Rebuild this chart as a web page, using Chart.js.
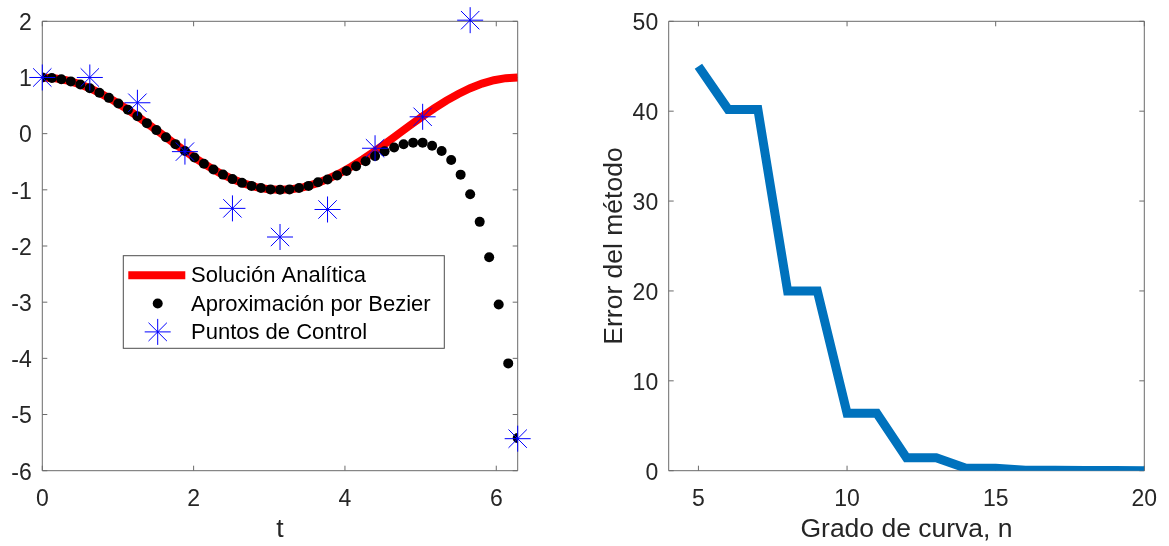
<!DOCTYPE html>
<html>
<head>
<meta charset="utf-8">
<script src="https://cdn.jsdelivr.net/npm/chart.js@4.4.0/dist/chart.umd.min.js"></script>
<style>
  html, body { margin: 0; padding: 0; background: #fff; }
  #lienzo { position: relative; width: 1169px; height: 546px; }
  #graficoBezier { position: absolute; left: 0; top: 0; }
  #graficoError { position: absolute; left: 570px; top: 0; }
</style>
</head>
<body>
<div id="lienzo">
  <canvas id="graficoBezier" width="560" height="546"></canvas>
  <canvas id="graficoError" width="599" height="546"></canvas>
</div>
<script>
// ---- datos ----
// Solucion analitica
const tAnalitica = [0, 0.157, 0.314, 0.471, 0.628, 0.785, 0.942, 1.100, 1.257, 1.414, 1.571,
  1.728, 1.885, 2.042, 2.199, 2.356, 2.513, 2.670, 2.827, 2.985, 3.142,
  3.299, 3.456, 3.613, 3.770, 3.927, 4.084, 4.241, 4.398, 4.555, 4.712,
  4.869, 5.027, 5.184, 5.341, 5.498, 5.655, 5.812, 5.969, 6.126, 6.283];
const yAnalitica = [1.000, 0.988, 0.951, 0.891, 0.809, 0.707, 0.588, 0.454, 0.309, 0.156, 0.000,
  -0.156, -0.309, -0.454, -0.588, -0.707, -0.809, -0.891, -0.951, -0.988, -1.000,
  -0.988, -0.951, -0.891, -0.809, -0.707, -0.588, -0.454, -0.309, -0.156, 0.000,
  0.156, 0.309, 0.454, 0.588, 0.707, 0.809, 0.891, 0.951, 0.988, 1.000];

// Aproximacion por Bezier (puntos negros)
const tBezier = [0.000, 0.126, 0.251, 0.377, 0.503, 0.628, 0.754, 0.880, 1.005, 1.131, 1.257,
  1.382, 1.508, 1.634, 1.759, 1.885, 2.011, 2.136, 2.262, 2.388, 2.513,
  2.639, 2.765, 2.890, 3.016, 3.142, 3.267, 3.393, 3.519, 3.644, 3.770,
  3.896, 4.021, 4.147, 4.273, 4.398, 4.524, 4.650, 4.775, 4.901, 5.027,
  5.152, 5.278, 5.404, 5.529, 5.655, 5.781, 5.906, 6.032, 6.158, 6.283];
const yBezier = [1.000, 0.992, 0.969, 0.930, 0.876, 0.809, 0.729, 0.637, 0.536, 0.426, 0.309,
  0.187, 0.063, -0.063, -0.187, -0.309, -0.426, -0.536, -0.637, -0.729, -0.809,
  -0.876, -0.930, -0.969, -0.992, -1.000, -0.992, -0.969, -0.930, -0.865, -0.815,
  -0.745, -0.665, -0.580, -0.490, -0.400, -0.315, -0.245, -0.190, -0.160, -0.160,
  -0.215, -0.310, -0.470, -0.730, -1.080, -1.570, -2.200, -3.040, -4.090, -5.420];

// Puntos de control
const tControl = [0, 0.628, 1.257, 1.885, 2.513, 3.142, 3.770, 4.398, 5.027, 5.655, 6.283];
const yControl = [1.00, 1.00, 0.55, -0.32, -1.33, -1.84, -1.35, -0.26, 0.30, 2.02, -5.43];

// Error del metodo vs grado
const gradoCurva = [5, 6, 7, 8, 9, 10, 11, 12, 13, 14, 15, 16, 17, 18, 19, 20];
const errorMetodo = [45.0, 40.2, 40.2, 20.0, 20.0, 6.4, 6.4, 1.45, 1.45, 0.28, 0.28, 0.04, 0.04, 0.01, 0.01, 0.0];

// ticks
const ticksT = [0, 2, 4, 6];
const ticksY1 = [-6, -5, -4, -3, -2, -1, 0, 1, 2];
const ticksGrado = [5, 10, 15, 20];
const ticksError = [0, 10, 20, 30, 40, 50];

const etiquetas = ['Solución Analítica', 'Aproximación por Bezier', 'Puntos de Control'];

// ---- estilo ----
const fuente = 'Liberation Sans, Arial, Helvetica, sans-serif';
const grisTexto = '#262626';
const grisEje = '#6b6b6b';

// marco tipo matlab con marcas hacia adentro en los 4 lados
const marcoEjes = {
  id: 'marcoEjes',
  beforeDatasetsDraw(chart) {
    const { ctx, chartArea: a, scales } = chart;
    const x = scales.x, y = scales.y;
    ctx.save();
    ctx.strokeStyle = grisEje;
    ctx.lineWidth = 1;
    ctx.beginPath();
    ctx.rect(a.left, a.top, a.right - a.left, a.bottom - a.top);
    x.ticks.forEach(t => {
      const px = x.getPixelForValue(t.value);
      ctx.moveTo(px, a.bottom); ctx.lineTo(px, a.bottom - 5);
      ctx.moveTo(px, a.top); ctx.lineTo(px, a.top + 5);
    });
    y.ticks.forEach(t => {
      const py = y.getPixelForValue(t.value);
      ctx.moveTo(a.left, py); ctx.lineTo(a.left + 5, py);
      ctx.moveTo(a.right, py); ctx.lineTo(a.right - 5, py);
    });
    ctx.stroke();
    ctx.restore();
  }
};

// leyenda con recuadro dentro del area
const leyendaCaja = {
  id: 'leyendaCaja',
  afterDraw(chart) {
    const { ctx, chartArea: a } = chart;
    const x0 = a.left + 81, y0 = a.top + 234.4, w = 321, h = 92.6;
    ctx.save();
    ctx.fillStyle = '#fff';
    ctx.fillRect(x0, y0, w, h);
    ctx.strokeStyle = '#4d4d4d';
    ctx.lineWidth = 1;
    ctx.strokeRect(x0, y0, w, h);
    ctx.font = '22px ' + fuente;
    ctx.fillStyle = '#000';
    ctx.textBaseline = 'middle';
    chart.data.datasets.forEach((ds, i) => {
      const yc = y0 + 19.5 + i * 28.35;
      const xc = x0 + 34.4;
      if (i === 0) {
        ctx.strokeStyle = ds.borderColor;
        ctx.lineWidth = 8;
        ctx.beginPath();
        ctx.moveTo(x0 + 5, yc); ctx.lineTo(x0 + 62, yc);
        ctx.stroke();
      } else if (i === 1) {
        ctx.fillStyle = '#000';
        ctx.beginPath();
        ctx.arc(xc, yc, 5, 0, Math.PI * 2);
        ctx.fill();
      } else {
        ctx.strokeStyle = ds.borderColor;
        ctx.lineWidth = 1;
        Chart.helpers.drawPoint(ctx, { pointStyle: 'star', radius: 13, borderWidth: 1 }, xc, yc);
      }
      ctx.fillStyle = '#000';
      ctx.fillText(ds.label, x0 + 67.7, yc + 1);
    });
    ctx.restore();
  }
};

function ejeX(ticksLista, min, max, titulo) {
  return {
    type: 'linear', min: min, max: max,
    afterBuildTicks: s => { s.ticks = ticksLista.map(v => ({ value: v })); },
    afterFit: s => { s.height = 75.3; s.paddingLeft = 0; s.paddingRight = 0; },
    grid: { display: false, drawTicks: false },
    border: { display: false },
    ticks: { font: { family: fuente, size: 23 }, color: grisTexto, padding: 15, maxRotation: 0 },
    title: { display: true, text: titulo, font: { family: fuente, size: 26.5 }, color: grisTexto, padding: 0 }
  };
}

function ejeY(ticksLista, min, max, ancho, titulo) {
  const eje = {
    type: 'linear', min: min, max: max,
    afterBuildTicks: s => { s.ticks = ticksLista.map(v => ({ value: v })); },
    afterFit: s => { s.width = ancho; s.paddingTop = 0; s.paddingBottom = 0; },
    grid: { display: false, drawTicks: false },
    border: { display: false },
    ticks: { font: { family: fuente, size: 23 }, color: grisTexto, padding: 10.5, labelOffset: 2.5 }
  };
  if (titulo) {
    eje.title = { display: true, text: titulo, font: { family: fuente, size: 26.5 }, color: grisTexto, padding: { top: 5, bottom: 0 } };
  }
  return eje;
}

// ---- grafico izquierdo ----
new Chart(document.getElementById('graficoBezier'), {
  type: 'scatter',
  data: {
    datasets: [{
      label: etiquetas[0],
      data: tAnalitica.map((t, i) => ({ x: t, y: yAnalitica[i] })),
      showLine: true,
      borderColor: '#ff0000',
      borderWidth: 8,
      pointRadius: 0,
      order: 3
    }, {
      label: etiquetas[1],
      data: tBezier.map((t, i) => ({ x: t, y: yBezier[i] })),
      showLine: false,
      backgroundColor: '#000000',
      borderWidth: 0,
      pointRadius: 5,
      order: 2
    }, {
      label: etiquetas[2],
      data: tControl.map((t, i) => ({ x: t, y: yControl[i] })),
      showLine: false,
      pointStyle: 'star',
      borderColor: '#0000ff',
      backgroundColor: '#0000ff',
      borderWidth: 1,
      pointRadius: 13,
      clip: false,
      order: 1
    }]
  },
  options: {
    responsive: false,
    animation: false,
    layout: { padding: { left: 0, right: 42.3, top: 21.3, bottom: 0 } },
    plugins: { legend: { display: false }, tooltip: { enabled: false } },
    scales: {
      x: ejeX(ticksT, 0, 6.2832, 't'),
      y: ejeY(ticksY1, -6, 2, 42.3, null)
    }
  },
  plugins: [marcoEjes, leyendaCaja]
});

// ---- grafico derecho ----
new Chart(document.getElementById('graficoError'), {
  type: 'line',
  data: {
    datasets: [{
      label: 'Error',
      data: gradoCurva.map((n, i) => ({ x: n, y: errorMetodo[i] })),
      borderColor: '#0072BD',
      borderWidth: 9,
      pointRadius: 0,
      tension: 0
    }]
  },
  options: {
    responsive: false,
    animation: false,
    layout: { padding: { left: 24, right: 24.7, top: 21.3, bottom: 0 } },
    plugins: { legend: { display: false }, tooltip: { enabled: false } },
    scales: {
      x: ejeX(ticksGrado, 4, 20, 'Grado de curva, n'),
      y: ejeY(ticksError, 0, 50, 74.7, 'Error del método')
    }
  },
  plugins: [marcoEjes]
});
</script>
</body>
</html>
